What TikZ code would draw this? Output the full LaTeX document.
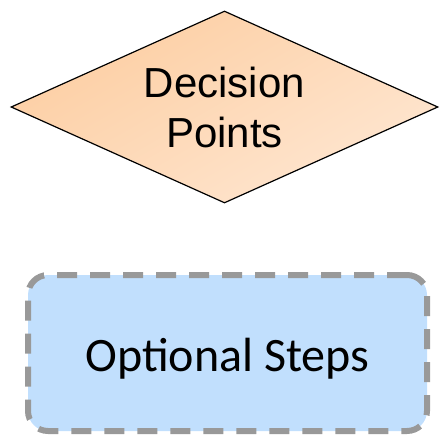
\documentclass[tikz,border=0pt]{standalone}
\usepackage{fontspec}
\setmainfont{Liberation Sans}
\newfontfamily\calibrifont{Carlito}
\usetikzlibrary{shapes.geometric}

\definecolor{decisiontop}{HTML}{FCC693}
\definecolor{decisionbottom}{HTML}{FFEEE0}
\definecolor{optionalfill}{HTML}{C1DFFD}
\definecolor{optionalline}{HTML}{999999}

\begin{document}
\begin{tikzpicture}[x=1pt,y=-1pt]

    % Fix the canvas to the size of the figure
    \useasboundingbox (0,0) rectangle (441,434);

    % Decision point: wide diamond with a diagonal orange gradient
    \node[diamond, draw=black, line width=1.2pt,
          path picture={\shade[top color=decisiontop, bottom color=decisionbottom,
                               shading angle=30]
                        ([shift={(-230pt,-230pt)}]path picture bounding box.center)
                        rectangle ([shift={(230pt,230pt)}]path picture bounding box.center);},
          minimum width=427pt, minimum height=192pt, aspect=2.22, inner sep=0pt,
          align=center, font=\fontsize{42}{50}\selectfont]
          (decision) at (224.5,107) {Decision\\Points};

    % Optional step: rounded box with a thick grey dashed border
    \node[draw=optionalline, fill=optionalfill, line width=6pt,
          dash pattern=on 20pt off 13pt, rounded corners=20pt,
          minimum width=399pt, minimum height=156pt,
          text height=36pt, text depth=0pt,
          font=\calibrifont\fontsize{48}{56}\selectfont]
          (optional) at (227.5,353) {Optional Steps};

\end{tikzpicture}
\end{document}
